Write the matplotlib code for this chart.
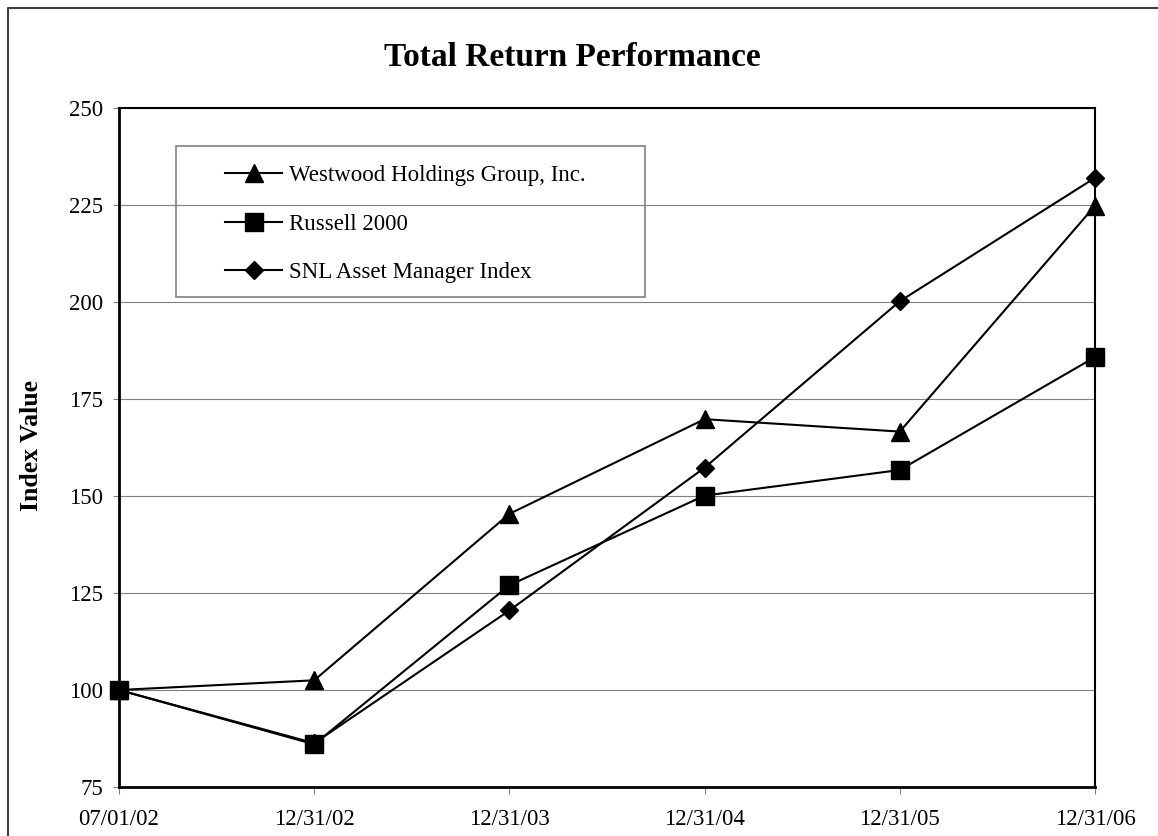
import numpy as np
import matplotlib.pyplot as plt
from matplotlib.patches import Rectangle
from matplotlib.lines import Line2D

# datos
fechas = ["07/01/02", "12/31/02", "12/31/03", "12/31/04", "12/31/05", "12/31/06"]
westwood = [100, 102.5, 145.4, 169.8, 166.6, 224.8]
russell = [100, 86.0, 127.0, 150.1, 156.7, 185.8]
snl = [100, 86.3, 120.5, 157.3, 200.2, 232.0]
nombres = ["Westwood Holdings Group, Inc.", "Russell 2000", "SNL Asset Manager Index"]
ticks_y = [75, 100, 125, 150, 175, 200, 225, 250]

plt.rcParams['font.family'] = ['Liberation Serif', 'DejaVu Serif']

W, H = 1158, 836
def px(x, y):
    # pixeles -> fraccion de figura
    return x / W, 1 - y / H

fig = plt.figure(figsize=(W / 100, H / 100), dpi=100)
ax = fig.add_axes([119 / W, 1 - 787 / H, (1095 - 119) / W, (787 - 108) / H])

x = np.arange(len(fechas))
l1, = ax.plot(x, westwood, color='black', lw=1.5, marker='^', ms=13, zorder=3, clip_on=False)
l3, = ax.plot(x, snl, color='black', lw=1.5, marker='D', ms=9.5, zorder=3, clip_on=False)
l2, = ax.plot(x, russell, color='black', lw=1.5, marker='s', ms=12.5, zorder=4, clip_on=False)

ax.set_xlim(0, len(fechas) - 1)
ax.set_ylim(75, 250)
ax.set_yticks(ticks_y)
ax.set_xticks(x, fechas)
ax.grid(axis='y', color='#808080', lw=0.8)
ax.set_axisbelow(True)
ax.tick_params(axis='both', labelsize=16.5, color='#808080', direction='out')
ax.tick_params(axis='x', length=5, pad=11)
ax.tick_params(axis='y', length=4.5, pad=7)
for s in ['left', 'bottom']:
    ax.spines[s].set_linewidth(2)
for s in ['top', 'right']:
    ax.spines[s].set_linewidth(1.5)

# titulo y etiqueta del eje
fig.text(*px(572, 57), "Total Return Performance", ha='center', va='center',
         fontsize=24, weight='bold')
fig.text(*px(32, 446), "Index Value", ha='center', va='center', rotation=90,
         fontsize=18.5, weight='bold')

# leyenda con marco dibujado aparte
fig.add_artist(Rectangle(px(176, 297), (645 - 176) / W, (297 - 146) / H,
                         transform=fig.transFigure, fill=False,
                         edgecolor='#808080', lw=1.2))
fig.legend([l1, l2, l3], nombres, loc='upper left', bbox_to_anchor=px(225, 165),
           frameon=False, fontsize=16.5, handlelength=2.5, handletextpad=0.3,
           labelspacing=1.2, borderpad=0, borderaxespad=0)

# borde exterior del grafico
fig.add_artist(Line2D([8 / W, 8 / W, 1.0], [0.0, 1 - 8 / H, 1 - 8 / H],
                      transform=fig.transFigure, color='#404040', lw=1.5))

fig.savefig("out.png", dpi=100)
